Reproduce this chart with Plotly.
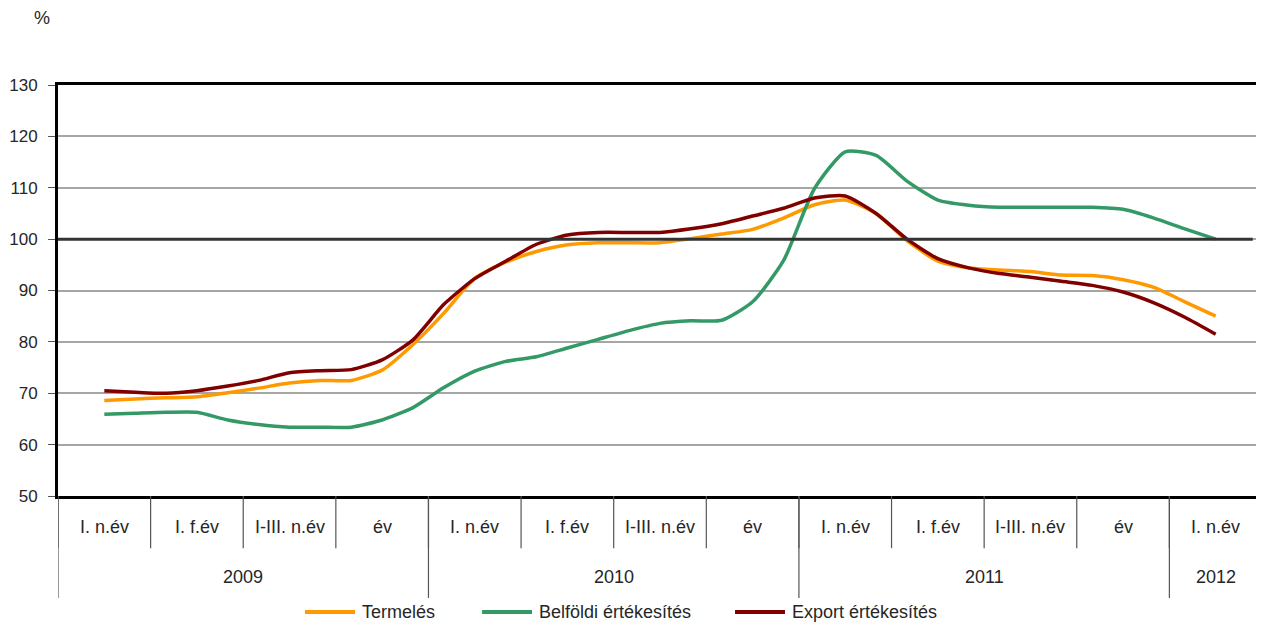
import numpy as np
import plotly.graph_objects as go

# Monthly observations, Feb 2009 .. Feb 2012 (37 points)
termeles = [68.6, 68.9, 69.1, 69.3, 70.1, 71.0, 72.0, 72.5, 72.5, 74.5, 79.5, 85.6,
            92.4, 95.5, 97.6, 98.9, 99.3, 99.3, 99.3, 100.1, 101.0, 101.9, 104.1, 106.7,
            107.6, 105.0, 99.7, 95.7, 94.4, 94.0, 93.7, 93.0, 92.9, 92.1, 90.6, 87.8, 85.0]
belfoldi = [65.9, 66.1, 66.3, 66.3, 64.8, 63.9, 63.4, 63.4, 63.4, 64.8, 67.2, 71.1,
            74.3, 76.2, 77.1, 78.8, 80.5, 82.2, 83.6, 84.1, 84.2, 87.8, 95.8, 109.8,
            117.0, 116.3, 111.3, 107.6, 106.6, 106.2, 106.2, 106.2, 106.2, 105.8, 104.1, 102.0, 100.0]
export = [70.5, 70.2, 70.0, 70.5, 71.4, 72.5, 74.0, 74.4, 74.6, 76.5, 80.4, 87.3,
          92.3, 95.7, 99.0, 100.8, 101.3, 101.3, 101.3, 102.0, 103.0, 104.5, 106.0, 108.0,
          108.4, 105.0, 100.0, 96.2, 94.4, 93.3, 92.6, 91.8, 91.0, 89.7, 87.6, 84.8, 81.5]

quarter_labels = ["I. n.év", "I. f.év", "I-III. n.év", "év",
                  "I. n.év", "I. f.év", "I-III. n.év", "év",
                  "I. n.év", "I. f.év", "I-III. n.év", "év",
                  "I. n.év"]
year_labels = ["2009", "2010", "2011", "2012"]
year_quarters = [4, 4, 4, 1]
series_names = ["Termelés", "Belföldi értékesítés", "Export értékesítés"]
reference_level = 100

FONT = "Liberation Sans, Arial, sans-serif"
TXT = "#262626"
FS = 18
colors = ["#FF9900", "#339966", "#800000"]

n_months = 3 * len(quarter_labels)           # 39 monthly slots on the axis
x = np.arange(len(termeles)) + 1.5           # centre of slot: Feb 2009 = slot 1

fig = go.Figure()
for name, vals, col in zip(series_names, [termeles, belfoldi, export], colors):
    fig.add_trace(go.Scatter(x=x, y=vals, name=name, mode="lines", showlegend=False,
                             line=dict(color=col, width=3.5, shape="spline", smoothing=0.6)))

shapes = []
annotations = []
# 100% reference line
shapes.append(dict(type="line", xref="x", yref="y", x0=0, x1=n_months - 0.3,
                   y0=reference_level, y1=reference_level,
                   line=dict(color="#333333", width=3), layer="above"))
# quarter separators and labels
for q, lab in enumerate(quarter_labels):
    annotations.append(dict(x=3 * q + 1.5, y=-0.076, xref="x", yref="paper", text=lab,
                            showarrow=False, font=dict(family=FONT, size=FS, color=TXT),
                            xanchor="center", yanchor="middle"))
    shapes.append(dict(type="line", xref="x", yref="paper", x0=3 * q, x1=3 * q,
                       y0=0, y1=-0.127, line=dict(color="#555", width=1.2)))
# year separators and labels
start = 0
for yl, nq in zip(year_labels, year_quarters):
    annotations.append(dict(x=3 * (start + nq / 2), y=-0.197, xref="x", yref="paper", text=yl,
                            showarrow=False, font=dict(family=FONT, size=FS, color=TXT),
                            xanchor="center", yanchor="middle"))
    shapes.append(dict(type="line", xref="x", yref="paper", x0=3 * start, x1=3 * start,
                       y0=0, y1=-0.248, line=dict(color="#555", width=1.2)))
    start += nq

# manual legend
leg_line_x = [(0.2051, 0.2467), (0.3522, 0.3937), (0.5623, 0.6038)]
for name, col, (a, b) in zip(series_names, colors, leg_line_x):
    shapes.append(dict(type="line", xref="paper", yref="paper", x0=a, x1=b,
                       y0=-0.2822, y1=-0.2822, line=dict(color=col, width=4)))
    annotations.append(dict(x=b + 0.0045, y=-0.2822, xref="paper", yref="paper", text=name,
                            showarrow=False, xanchor="left", yanchor="middle",
                            font=dict(family=FONT, size=FS, color=TXT)))

annotations.append(dict(x=-0.0133, y=1.163, xref="paper", yref="paper", text="%",
                        showarrow=False, xanchor="center", yanchor="middle",
                        font=dict(family=FONT, size=FS, color=TXT)))

# the page places the figure 8 px in from the top-left corner
fig.update_layout(
    width=1256, height=615,
    margin=dict(l=50, r=2, t=77, b=127, autoexpand=False),
    plot_bgcolor="white", paper_bgcolor="white",
    font=dict(family=FONT, size=FS, color=TXT),
    showlegend=False,
    shapes=shapes, annotations=annotations,
)
fig.update_xaxes(range=[0, n_months], showticklabels=False, showgrid=False, zeroline=False,
                 showline=True, linecolor="black", linewidth=3, mirror=True, ticks="",
                 automargin=False)
fig.update_yaxes(range=[50, 130], dtick=10, showgrid=True, gridcolor="#A6A6A6", gridwidth=2,
                 zeroline=False, showline=True, linecolor="black", linewidth=3, mirror=True,
                 ticks="outside", ticklen=7, tickcolor="#555", tickwidth=1,
                 ticklabelstandoff=7, automargin=False,
                 tickfont=dict(family=FONT, size=17, color=TXT))

fig.write_html("out.html")
